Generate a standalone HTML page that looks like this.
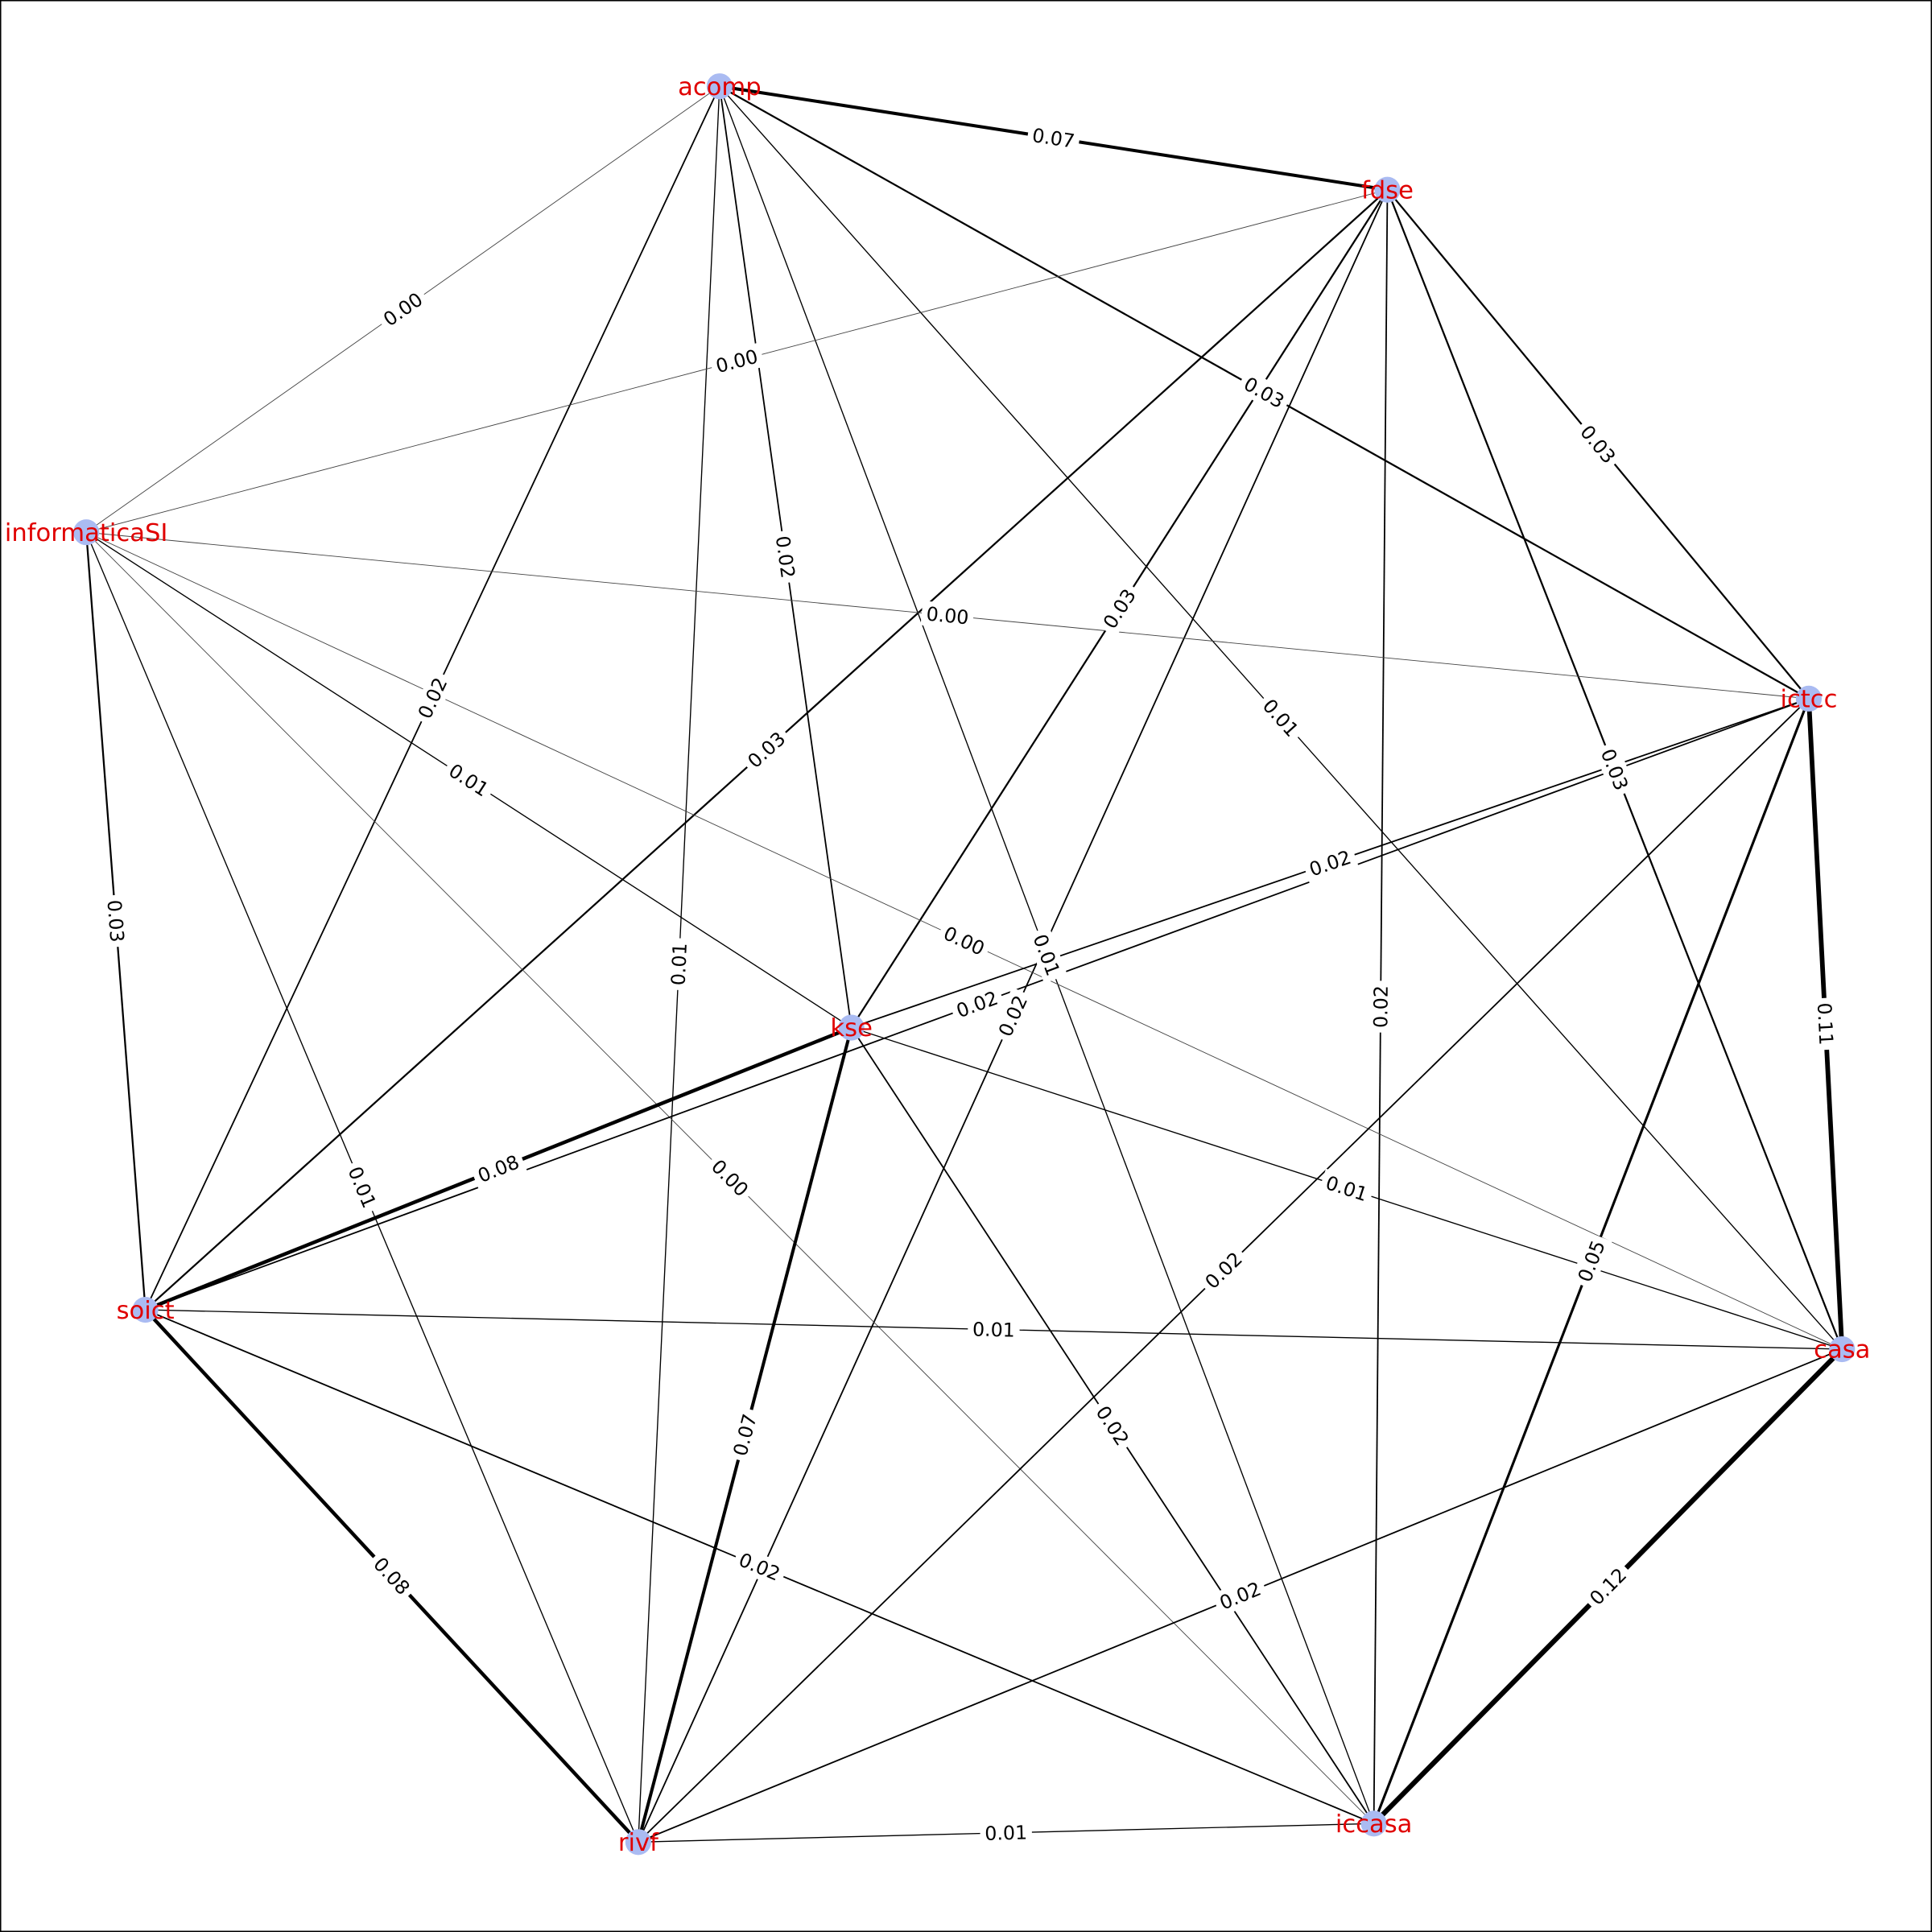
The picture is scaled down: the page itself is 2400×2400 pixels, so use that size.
<!DOCTYPE html>
<html><head><meta charset="utf-8"><style>
html,body{margin:0;padding:0;background:#fff;}
svg{display:block;}
text{font-family:"DejaVu Sans","Liberation Sans",sans-serif;}
</style></head><body>
<svg id="chart" width="2400" height="2400" viewBox="0 0 1568 1568" xmlns="http://www.w3.org/2000/svg">
<rect x="0.5" y="0.5" width="1567" height="1567" fill="#fff" stroke="#000" stroke-width="1"/>
<g id="edges"></g><g id="nodes"></g><g id="nlabels"></g><g id="elabels"></g>
</svg>
<script>
const nodeNames = ["acomp","fdse","informaticaSI","ictcc","kse","soict","casa","iccasa","rivf"];
const nodeX = [584,1126,70,1468,691,118,1495,1115,518];
const nodeY = [70,154,432,567,834,1063,1095,1480,1495];
const edgeSource = ["acomp","acomp","acomp","acomp","acomp","acomp","acomp","acomp",
 "fdse","fdse","fdse","fdse","fdse","fdse","fdse",
 "informaticaSI","informaticaSI","informaticaSI","informaticaSI","informaticaSI","informaticaSI",
 "ictcc","ictcc","ictcc","ictcc","ictcc",
 "kse","kse","kse","kse","soict","soict","soict","casa","casa","iccasa"];
const edgeTarget = ["fdse","informaticaSI","soict","rivf","kse","iccasa","casa","ictcc",
 "informaticaSI","soict","kse","rivf","iccasa","ictcc","casa",
 "ictcc","kse","casa","soict","rivf","iccasa",
 "kse","soict","casa","iccasa","rivf",
 "soict","rivf","casa","iccasa","casa","rivf","iccasa","iccasa","rivf","rivf"];
const edgeWeight = [0.07,0.00,0.02,0.01,0.02,0.01,0.01,0.03,
 0.00,0.03,0.03,0.02,0.02,0.03,0.03,
 0.00,0.01,0.00,0.03,0.01,0.00,
 0.02,0.02,0.11,0.05,0.02,
 0.08,0.07,0.01,0.02,0.01,0.08,0.02,0.12,0.02,0.01];
const NS="http://www.w3.org/2000/svg";
const idx = n => nodeNames.indexOf(n);
const gE=document.getElementById('edges'), gN=document.getElementById('nodes'),
      gNL=document.getElementById('nlabels'), gEL=document.getElementById('elabels');
for(let i=0;i<edgeSource.length;i++){
  const a=idx(edgeSource[i]), b=idx(edgeTarget[i]);
  const x1=nodeX[a],y1=nodeY[a],x2=nodeX[b],y2=nodeY[b];
  const w=edgeWeight[i];
  const ln=document.createElementNS(NS,'line');
  ln.setAttribute('x1',x1);ln.setAttribute('y1',y1);ln.setAttribute('x2',x2);ln.setAttribute('y2',y2);
  ln.setAttribute('stroke', w<0.005?'#444':'#000');
  ln.setAttribute('stroke-width',(0.6+w*29).toFixed(2));
  
  
  gE.appendChild(ln);
  const mx=(x1+x2)/2,my=(y1+y2)/2;
  let ang=Math.atan2(y2-y1,x2-x1)*180/Math.PI;
  if(ang>90)ang-=180; if(ang<=-90)ang+=180;
  const g=document.createElementNS(NS,'g');
  g.setAttribute('transform',`translate(${mx},${my}) rotate(${ang})`);
  
  
  const r=document.createElementNS(NS,'rect');
  r.setAttribute('x',-21);r.setAttribute('y',-10);r.setAttribute('width',42);r.setAttribute('height',20);r.setAttribute('fill','#fff');
  g.appendChild(r);
  const t=document.createElementNS(NS,'text');
  t.setAttribute('text-anchor','middle');t.setAttribute('y',5.5);t.setAttribute('font-size',15.5);
  t.textContent=w.toFixed(2);
  g.appendChild(t);
  gEL.appendChild(g);
}
for(let i=0;i<nodeNames.length;i++){
  const c=document.createElementNS(NS,'circle');
  c.setAttribute('cx',nodeX[i]);c.setAttribute('cy',nodeY[i]);c.setAttribute('r',10.5);c.setAttribute('fill','#aabbf2');
  
  
  gN.appendChild(c);
  const t=document.createElementNS(NS,'text');
  t.setAttribute('x',nodeX[i]);t.setAttribute('y',nodeY[i]+7);t.setAttribute('text-anchor','middle');
  t.setAttribute('font-size',20);t.setAttribute('fill','#e00000');
  t.textContent=nodeNames[i];
  
  
  gNL.appendChild(t);
}
</script>
</body></html>
